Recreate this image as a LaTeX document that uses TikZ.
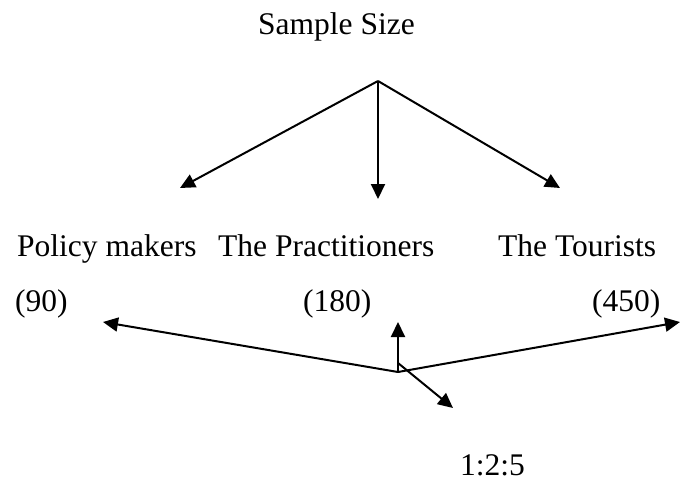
\documentclass[tikz,border=0pt]{standalone}
\usepackage{fontspec}
\setmainfont{Liberation Serif}
\usetikzlibrary{arrows.meta}
\begin{document}
\begin{tikzpicture}[x=1pt,y=-1pt,
  lbl/.style={anchor=base west,inner sep=0pt,font=\fontsize{31.5}{36}\selectfont},
  conn/.style={line width=2pt,-{Triangle[length=15pt,width=14pt]}}]
\useasboundingbox (0,0) rectangle (680,484);
% texts
\node[lbl] (ss) at (258,35) {Sample Size};
\node[lbl] (pm) at (17,256) {Policy makers};
\node[lbl] (pr) at (218,256) {The Practitioners};
\node[lbl] (to) at (498,256) {The Tourists};
\node[lbl] (n90) at (15,311) {(90)};
\node[lbl] (n180) at (303,311) {(180)};
\node[lbl] (n450) at (592,311) {(450)};
\node[lbl] (ratio) at (460,475) {1:2:5};
% points
\coordinate (apex) at (378,81);
\coordinate (t1) at (180,188);
\coordinate (t2) at (378,199);
\coordinate (t3) at (560,188);
\coordinate (v) at (398,372);
\coordinate (v2) at (398,363);
\coordinate (b1) at (103,322);
\coordinate (b2) at (680,322);
\coordinate (b3) at (398,322);
\coordinate (b4) at (453,408);
% connectors
\draw[conn] (apex) -- (t1);
\draw[conn] (apex) -- (t2);
\draw[conn] (apex) -- (t3);
\draw[conn] (v) -- (b1);
\draw[conn] (v) -- (b2);
\draw[conn] (v) -- (b3);
\draw[conn] (v2) -- (b4);
\end{tikzpicture}
\end{document}
